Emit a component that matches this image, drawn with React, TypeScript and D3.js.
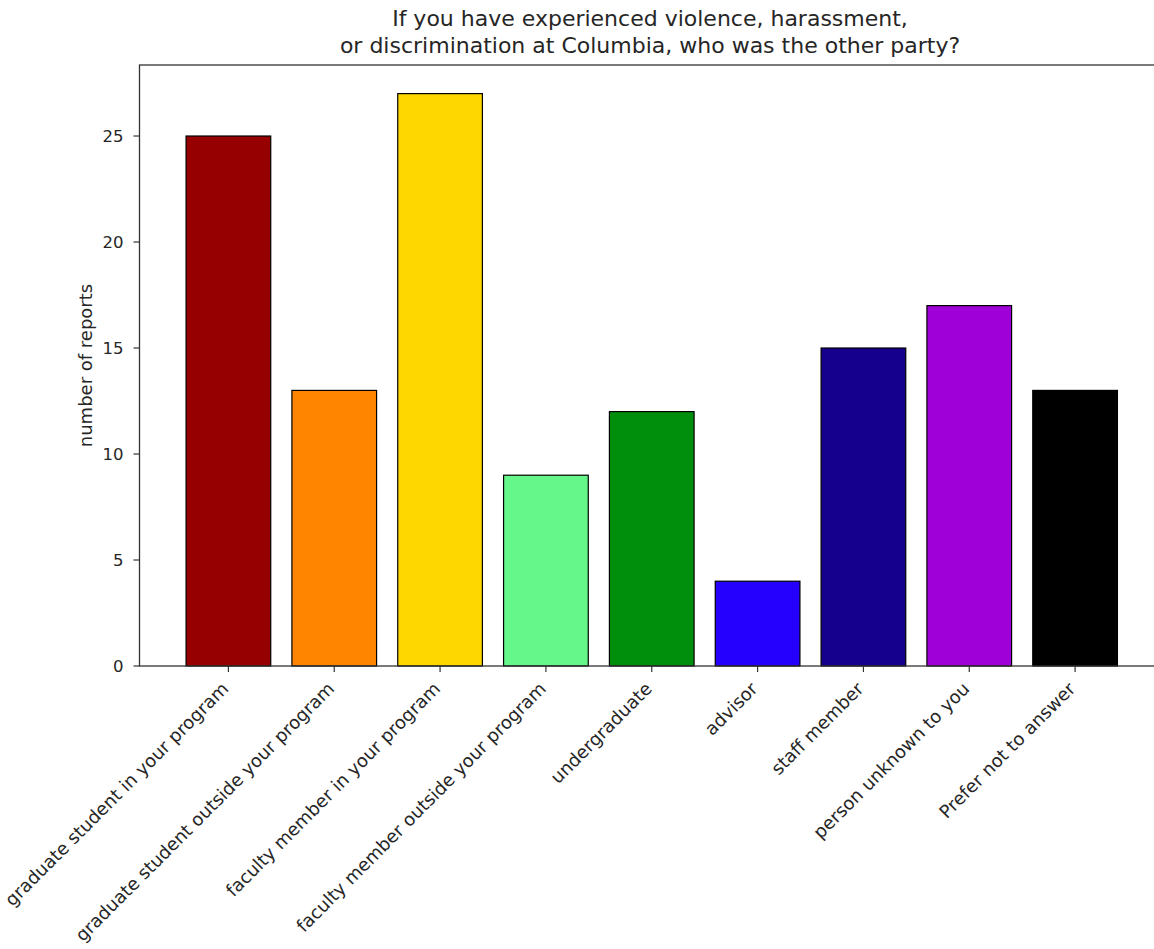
import React from "react";
import * as d3 from "d3";

const categories = [
  "graduate student in your program",
  "graduate student outside your program",
  "faculty member in your program",
  "faculty member outside your program",
  "undergraduate",
  "advisor",
  "staff member",
  "person unknown to you",
  "Prefer not to answer",
];
const values = [25, 13, 27, 9, 12, 4, 15, 17, 13];
const colors = ["#960000", "#ff8500", "#ffd700", "#66f78b", "#008f0c", "#2600ff", "#14008c", "#a000d8", "#000000"];
const yTicks = [0, 5, 10, 15, 20, 25];
const titleLines = [
  "If you have experienced violence, harassment,",
  "or discrimination at Columbia, who was the other party?",
];
const yLabel = "number of reports";

export default function App() {
  const W = 1154, H = 949;
  const left = 139.5, right = 1164, top = 65, bottom = 666;
  const font = "'DejaVu Sans', sans-serif";
  const x = d3.scaleLinear().domain([-0.84, 8.84]).range([left, right]);
  const y = d3.scaleLinear().domain([0, 28.35]).range([bottom, top]);
  const bw = x(0.8) - x(0);
  const tickFs = 18;
  const lab = 0.354 * tickFs * 1.15;
  return (
    <svg width={W} height={H} style={{ position: "absolute", left: 0, top: 0, background: "#fff" }}>
      <rect x={0} y={0} width={W} height={H} fill="#fff" />
      {values.map((v, i) => (
        <rect key={i} x={x(i) - bw / 2} y={y(v)} width={bw} height={y(0) - y(v)}
          fill={colors[i]} stroke="#000" strokeWidth={1.2} />
      ))}
      <rect x={left} y={top} width={right - left} height={bottom - top} fill="none" stroke="#333" strokeWidth={1.3} />
      {yTicks.map((t) => (
        <g key={t}>
          <line x1={left - 6} x2={left} y1={y(t)} y2={y(t)} stroke="#333" strokeWidth={1.2} />
          <text x={left - 16} y={y(t)} dy="0.35em" textAnchor="end" fontFamily={font} fontSize={16.5} fill="#262626">{t}</text>
        </g>
      ))}
      {categories.map((c, i) => (
        <g key={c}>
          <line x1={x(i)} x2={x(i)} y1={bottom} y2={bottom + 6} stroke="#333" strokeWidth={1.2} />
          <text transform={`translate(${x(i) - lab + 4},${bottom + 12 + lab}) rotate(-45)`} textAnchor="end"
            dominantBaseline="central" fontFamily={font} fontSize={tickFs} fill="#262626">{c}</text>
        </g>
      ))}
      <text transform={`translate(85,${(top + bottom) / 2}) rotate(-90)`} textAnchor="middle" dominantBaseline="central"
        fontFamily={font} fontSize={tickFs} fill="#262626">{yLabel}</text>
      {titleLines.map((l, i) => (
        <text key={i} x={650} y={26 + i * 27} textAnchor="middle" fontFamily={font} fontSize={22} fill="#262626">{l}</text>
      ))}
    </svg>
  );
}
